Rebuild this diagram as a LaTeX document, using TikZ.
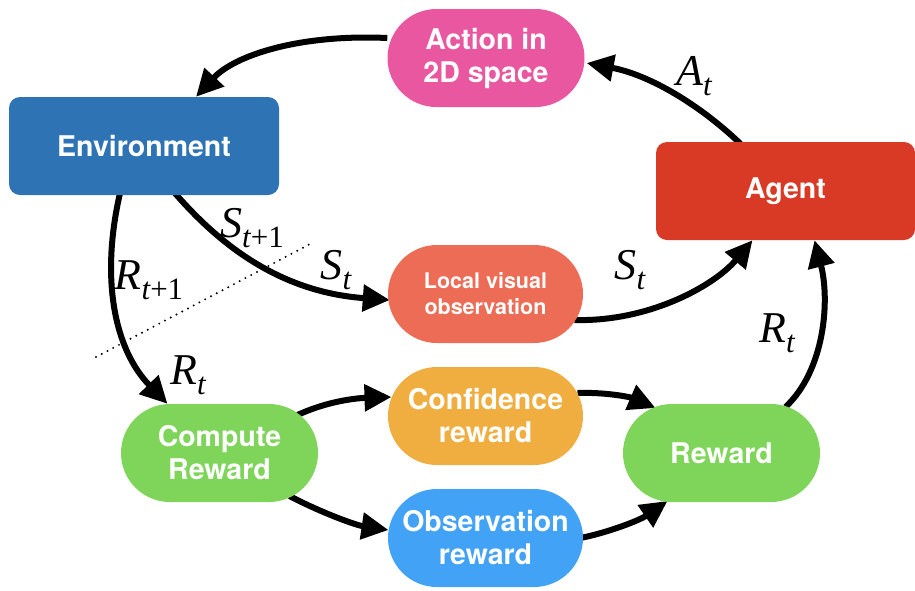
\documentclass[tikz,border=0pt]{standalone}
\usepackage{fontspec}
\setmainfont{TeX Gyre Heros}
\newfontfamily\tms{Liberation Serif}
\usetikzlibrary{arrows.meta,calc,backgrounds}
\definecolor{cpink}{HTML}{E8579F}
\definecolor{cenv}{HTML}{2E74B5}
\definecolor{cagent}{HTML}{D93A26}
\definecolor{clobs}{HTML}{EC6C56}
\definecolor{cgreen}{HTML}{7ED55A}
\definecolor{corange}{HTML}{EFAE3F}
\definecolor{cobs}{HTML}{42A2F5}
\newcommand\lbl[2]{{\tms\fontsize{44}{44}\selectfont\itshape #1\raisebox{-10pt}{\fontsize{31}{31}\selectfont #2}}}
\tikzset{
  box/.style={draw=none, text=white, align=center, inner sep=0pt,
    font=\bfseries\fontsize{28.5}{33}\selectfont},
  pill/.style={box, rounded corners=49pt, minimum width=197pt, minimum height=98pt},
  rbox/.style={box, rounded corners=11pt, minimum height=98pt},
  conn/.style={line width=6pt, -{Triangle[length=27pt,width=26pt]}},
  lab/.style={inner sep=0pt}
}
\begin{document}
\begin{tikzpicture}[x=1pt,y=-1pt]
\useasboundingbox (0,0) rectangle (915,590);
\node[pill, fill=cpink] (act) at (486,58) {Action in\\2D space};
\node[rbox, fill=cenv, minimum width=270pt] (env) at (144,146) {Environment};
\node[rbox, fill=cagent, minimum width=259pt] (agent) at (785.5,191) {Agent};
\node[pill, fill=clobs, minimum width=195pt, font=\bfseries\fontsize{21.5}{26}\selectfont] (lobs) at (485.5,294) {Local visual\\observation};
\node[pill, fill=cgreen] (cr) at (219.5,453) {Compute\\Reward};
\node[pill, fill=corange, minimum width=195pt] (conf) at (485.5,416) {Confidence\\reward};
\node[pill, fill=cobs, minimum width=195pt] (obs) at (485.5,538) {Observation\\reward};
\node[pill, fill=cgreen] (rew) at (721.5,453) {Reward};

\coordinate (d1) at (96,357);
\coordinate (d2) at (310,244);

\node[lab] (lAt) at (694,76) {\lbl{A}{t}};
\node[lab] (lSt1) at (252,228) {\lbl{S}{t\upshape+1}};
\node[lab] (lSt) at (336,270) {\lbl{S}{t}};
\node[lab] (lRt1) at (149,280) {\lbl{R}{t\upshape+1}};
\node[lab] (lRt) at (188,375) {\lbl{R}{t}};
\node[lab] (lSt2) at (630,270) {\lbl{S}{t}};
\node[lab] (lRt2) at (777,333) {\lbl{R}{t}};

\begin{scope}[on background layer]
\draw[line width=2.2pt, dash pattern=on 0pt off 6.5pt, line cap=round] (d1) -- (d2);
\draw[conn] ($(act.west)+(0,-20)$) .. controls (300,34) and (235,55) .. ($(env.north)+(52,0)$);
\draw[conn] ($(agent.north)+(-45,2)$) .. controls (700,105) and (650,75) .. ($(act.east)+(2,5)$);
\draw[conn] ($(env.south)+(31,-2)$) .. controls (220,245) and (280,292) .. ($(lobs.west)+(2,6)$);
\draw[conn] ($(env.south)+(-24,-2)$) .. controls (100,280) and (115,350) .. ($(cr.north)+(-52,0)$);
\draw[conn] ($(lobs.center)+(89,26)$) .. controls (650,322) and (715,285) .. ($(agent.south)+(-33,0)$);
\draw[conn] ($(rew.center)+(64,-46)$) .. controls (825,370) and (830,300) .. ($(agent.south)+(29,0)$);
\draw[conn] ($(cr.center)+(78,-38)$) .. controls (330,400) and (360,398) .. ($(conf.center)+(-94,-19)$);
\draw[conn] ($(cr.center)+(70,43)$) .. controls (320,512) and (355,525) .. ($(obs.center)+(-97,-8)$);
\draw[conn] ($(conf.center)+(92,-23)$) .. controls (605,392) and (630,397) .. ($(rew.center)+(-66,-45)$);
\draw[conn] ($(obs.center)+(95,0)$) .. controls (610,532) and (640,520) .. ($(rew.center)+(-54,48)$);
\end{scope}
\end{tikzpicture}
\end{document}
